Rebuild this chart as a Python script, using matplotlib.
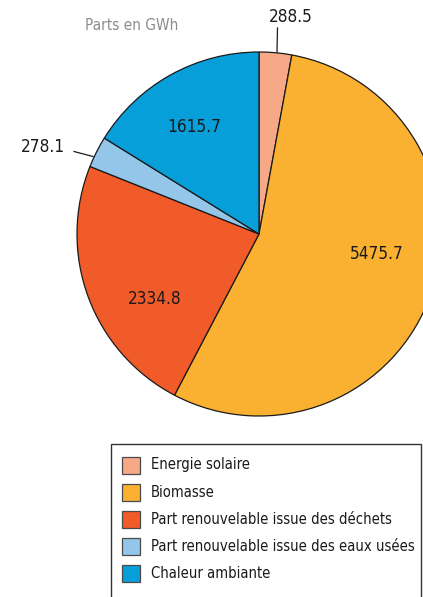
import matplotlib.pyplot as plt
from matplotlib.patches import Rectangle

plt.rcParams['font.family'] = ['DejaVu Sans']
plt.rcParams['font.stretch'] = 'condensed'

labels = ["Energie solaire", "Biomasse", "Part renouvelable issue des déchets",
          "Part renouvelable issue des eaux usées", "Chaleur ambiante"]
values = [288.5, 5475.7, 2334.8, 278.1, 1615.7]
colors = ["#F7A886", "#FAB132", "#F15A29", "#93C6E9", "#079FDA"]

W, H = 423, 597
fig = plt.figure(figsize=(W / 100, H / 100), dpi=100)
ax = fig.add_axes([0, 0, 1, 1])

# pixel-style coordinates: y measured from the top
def py(y):
    return H - y

cx, cy, r = 259, 234, 182
wedges, _ = ax.pie(values, colors=colors, startangle=90, counterclock=False,
                   center=(cx, py(cy)), radius=r, frame=True,
                   wedgeprops=dict(edgecolor='#1a1a1a', linewidth=0.9))
ax.set_xlim(0, W)
ax.set_ylim(0, H)
ax.set_aspect('equal')
ax.axis('off')

ax.text(132, py(25), "Parts en GWh", ha='center', va='center', fontsize=11, color='#8c8c8c')

txt = dict(ha='center', va='center', fontsize=12.3, color='#1a1a1a')
# values inside the slices
ax.text(377, py(254), f"{values[1]:.1f}", **txt)
ax.text(155, py(299.5), f"{values[2]:.1f}", **txt)
ax.text(194, py(127), f"{values[4]:.1f}", **txt)
# small slices labelled outside with leader lines
ax.text(291, py(16.5), f"{values[0]:.1f}", **txt)
ax.plot([277.5, 277], [py(28), py(52)], color='#1a1a1a', lw=0.9)
ax.text(42.5, py(147), f"{values[3]:.1f}", **txt)
ax.plot([74, 93], [py(151.5), py(156.5)], color='#1a1a1a', lw=0.9)

# legend box
ax.add_patch(Rectangle((110.5, py(620)), 310, 620 - 444, fill=False,
                       edgecolor='#333333', lw=1.0, clip_on=False))
for i, (lab, col) in enumerate(zip(labels, colors)):
    y = 465 + i * 27.2
    ax.add_patch(Rectangle((122, py(y + 8.5)), 18, 17, facecolor=col,
                           edgecolor='#4a4a4a', lw=0.9))
    ax.text(151, py(y), lab, ha='left', va='center', fontsize=10.6, color='#1a1a1a')

fig.savefig("out.png", dpi=100)
